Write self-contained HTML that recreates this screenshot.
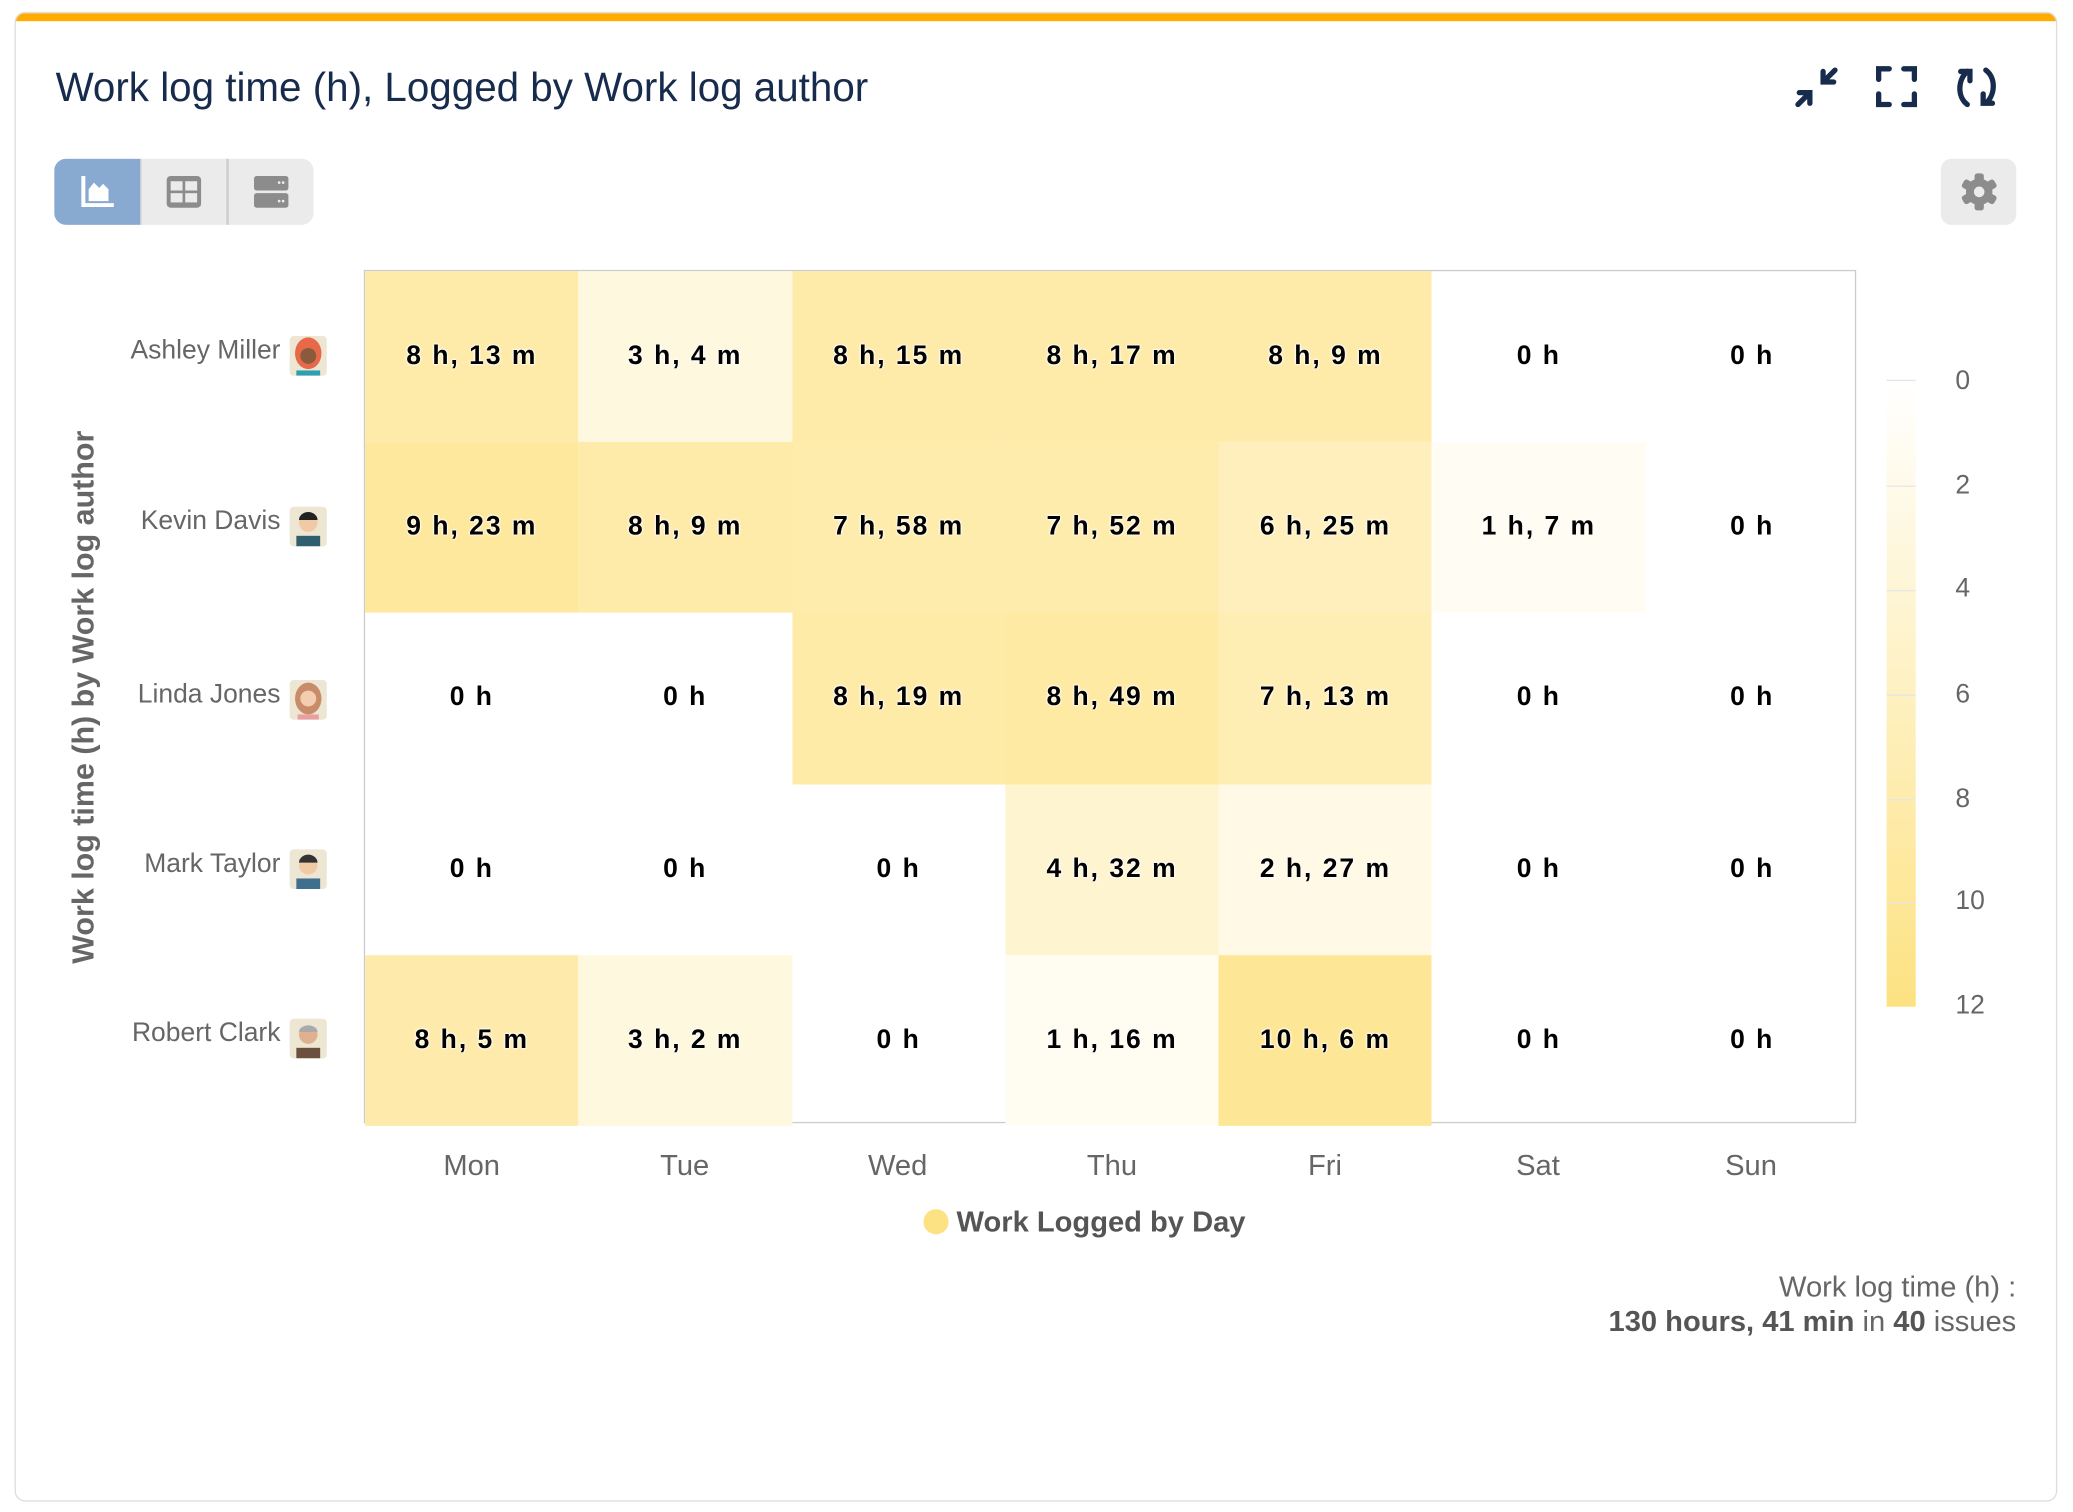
<!DOCTYPE html>
<html><head><meta charset="utf-8"><style>
html,body{margin:0;padding:0;background:#fff;width:2073px;height:1512px;overflow:hidden;font-family:"Liberation Sans",sans-serif}
#w{position:absolute;left:0;top:0;width:1565px;height:1142px;transform:scale(1.3230);transform-origin:0 0}
.a{position:absolute}
.card{left:11px;top:9px;width:1542px;height:1124px;border:1px solid #ddd;border-radius:8px;overflow:hidden;background:#fff}
.bar{left:0;top:0;width:100%;height:6px;background:#ffab00}
.title{left:42px;top:49px;font-size:30.5px;color:#172b4d;white-space:nowrap;transform:scaleY(1.02)}
.grp{left:41px;top:120px;width:196px;height:50px;background:#ebebeb;border-radius:9px;overflow:hidden}
.plot{left:275px;top:204px;width:1128px;height:645px;border:1px solid #ccc;box-sizing:border-box}
.c{position:absolute;width:161.3px;height:129.2px;display:flex;align-items:center;justify-content:center;font-weight:bold;font-size:20px;letter-spacing:1.5px;color:#000;text-shadow:0 0 2px #fff,0 0 2px #fff,0 0 2px #fff}
.n{position:absolute;right:1353px;font-size:20px;color:#666;white-space:nowrap}
.av{position:absolute;left:219px;width:28px;height:30px;border-radius:3px;background:#ede6d3;overflow:hidden}
.xl{position:absolute;top:868px;width:161px;text-align:center;font-size:22px;color:#666}
.cb{position:absolute;left:1478px;font-size:20px;color:#666}
.tk{position:absolute;left:1426px;width:22px;height:1px;background:#e6e6e6}
</style></head><body><div id="w">
<div class="a card"><div class="a bar"></div></div>
<div class="a title">Work log time (h), Logged by Work log author</div>
<svg class="a" style="left:1356px;top:50px" width="34" height="32" viewBox="0 0 34 32"><g stroke="#172b4d" stroke-width="4" stroke-linecap="round" fill="none"><path d="M3 29L12 20M4 20h8v8"/><path d="M31 3L22 12M22 4v8h8" /></g></svg>
<svg class="a" style="left:1417px;top:49px" width="33" height="33" viewBox="0 0 33 33"><g stroke="#172b4d" stroke-width="4" stroke-linecap="round" fill="none"><path d="M3 11V3h8M22 3h8v8M30 22v8h-8M11 30H3v-8"/></g></svg>
<svg class="a" style="left:1477px;top:48px" width="34" height="36" viewBox="0 0 34 36"><g stroke="#172b4d" stroke-width="4" stroke-linecap="round" fill="none"><path d="M10 31C2 25 3 12 10 6"/><path d="M5 6h7v7"/><path d="M24 5c8 6 7 19 0 25"/><path d="M29 30h-7v-7"/></g></svg>
<div class="a grp"><div class="a" style="left:0;top:0;width:65px;height:50px;background:#88aad0"></div><div class="a" style="left:130px;top:0;width:2px;height:50px;background:#d0d0d0"></div><div class="a" style="left:65px;top:0;width:1px;height:50px;background:#d0d0d0"></div>
<svg class="a" style="left:19px;top:12px" width="28" height="26"><path d="M3 1v22h23" stroke="#fff" stroke-width="3" fill="none"/><path d="M7 20v-9l4-5 4 4 3-3 4 4v9z" fill="#fff"/></svg>
<svg class="a" style="left:84px;top:12px" width="28" height="26"><rect x="1" y="1" width="26" height="24" rx="3" fill="#8c8c8c"/><rect x="4" y="5" width="9" height="7" fill="#ebebeb"/><rect x="15" y="5" width="9" height="7" fill="#ebebeb"/><rect x="4" y="14" width="9" height="7" fill="#ebebeb"/><rect x="15" y="14" width="9" height="7" fill="#ebebeb"/></svg>
<svg class="a" style="left:150px;top:12px" width="28" height="26"><rect x="1" y="1" width="26" height="11" rx="2" fill="#8c8c8c"/><rect x="1" y="14" width="26" height="11" rx="2" fill="#8c8c8c"/><circle cx="20" cy="6" r="1" fill="#eee"/><circle cx="23" cy="6" r="1" fill="#eee"/><circle cx="20" cy="20" r="1" fill="#eee"/><circle cx="23" cy="20" r="1" fill="#eee"/></svg></div>
<div class="a" style="left:1467px;top:120px;width:57px;height:50px;background:#ebebeb;border-radius:8px"></div>
<svg class="a" style="left:1481px;top:130px" width="30" height="30" viewBox="-15 -15 30 30"><g fill="#8c8c8c"><circle r="10"/><g><rect x="-3.5" y="-14" width="7" height="28" rx="2"/><rect x="-3.5" y="-14" width="7" height="28" rx="2" transform="rotate(60)"/><rect x="-3.5" y="-14" width="7" height="28" rx="2" transform="rotate(120)"/></g></g><circle r="4" fill="#ebebeb"/></svg>

<div class="a plot"></div>
<div class="a" style="left:276px;top:205px;width:1127px;height:644px">
<div class="c" style="left:0;top:0;background:color-mix(in srgb,#fde282 68.5%,#fff)">8 h, 13 m</div>
<div class="c" style="left:161.3px;top:0;background:color-mix(in srgb,#fde282 25.6%,#fff)">3 h, 4 m</div>
<div class="c" style="left:322.6px;top:0;background:color-mix(in srgb,#fde282 68.8%,#fff)">8 h, 15 m</div>
<div class="c" style="left:483.9px;top:0;background:color-mix(in srgb,#fde282 69%,#fff)">8 h, 17 m</div>
<div class="c" style="left:645.2px;top:0;background:color-mix(in srgb,#fde282 67.9%,#fff)">8 h, 9 m</div>
<div class="c" style="left:806.5px;top:0">0 h</div>
<div class="c" style="left:967.8px;top:0">0 h</div>
<div class="c" style="left:0;top:129.2px;background:color-mix(in srgb,#fde282 78.2%,#fff)">9 h, 23 m</div>
<div class="c" style="left:161.3px;top:129.2px;background:color-mix(in srgb,#fde282 67.9%,#fff)">8 h, 9 m</div>
<div class="c" style="left:322.6px;top:129.2px;background:color-mix(in srgb,#fde282 66.4%,#fff)">7 h, 58 m</div>
<div class="c" style="left:483.9px;top:129.2px;background:color-mix(in srgb,#fde282 65.6%,#fff)">7 h, 52 m</div>
<div class="c" style="left:645.2px;top:129.2px;background:color-mix(in srgb,#fde282 53.5%,#fff)">6 h, 25 m</div>
<div class="c" style="left:806.5px;top:129.2px;background:color-mix(in srgb,#fde282 9.3%,#fff)">1 h, 7 m</div>
<div class="c" style="left:967.8px;top:129.2px">0 h</div>
<div class="c" style="left:0;top:258.4px">0 h</div>
<div class="c" style="left:161.3px;top:258.4px">0 h</div>
<div class="c" style="left:322.6px;top:258.4px;background:color-mix(in srgb,#fde282 69.3%,#fff)">8 h, 19 m</div>
<div class="c" style="left:483.9px;top:258.4px;background:color-mix(in srgb,#fde282 73.5%,#fff)">8 h, 49 m</div>
<div class="c" style="left:645.2px;top:258.4px;background:color-mix(in srgb,#fde282 60.1%,#fff)">7 h, 13 m</div>
<div class="c" style="left:806.5px;top:258.4px">0 h</div>
<div class="c" style="left:967.8px;top:258.4px">0 h</div>
<div class="c" style="left:0;top:387.6px">0 h</div>
<div class="c" style="left:161.3px;top:387.6px">0 h</div>
<div class="c" style="left:322.6px;top:387.6px">0 h</div>
<div class="c" style="left:483.9px;top:387.6px;background:color-mix(in srgb,#fde282 37.8%,#fff)">4 h, 32 m</div>
<div class="c" style="left:645.2px;top:387.6px;background:color-mix(in srgb,#fde282 20.4%,#fff)">2 h, 27 m</div>
<div class="c" style="left:806.5px;top:387.6px">0 h</div>
<div class="c" style="left:967.8px;top:387.6px">0 h</div>
<div class="c" style="left:0;top:516.8px;background:color-mix(in srgb,#fde282 67.4%,#fff)">8 h, 5 m</div>
<div class="c" style="left:161.3px;top:516.8px;background:color-mix(in srgb,#fde282 25.3%,#fff)">3 h, 2 m</div>
<div class="c" style="left:322.6px;top:516.8px">0 h</div>
<div class="c" style="left:483.9px;top:516.8px;background:color-mix(in srgb,#fde282 10.6%,#fff)">1 h, 16 m</div>
<div class="c" style="left:645.2px;top:516.8px;background:color-mix(in srgb,#fde282 84.2%,#fff)">10 h, 6 m</div>
<div class="c" style="left:806.5px;top:516.8px">0 h</div>
<div class="c" style="left:967.8px;top:516.8px">0 h</div>
</div>

<div class="n" style="top:254px">Ashley Miller</div><div class="av" style="top:254px"><svg width="28" height="30"><ellipse cx="14" cy="13" rx="10" ry="12" fill="#e8694a"/><circle cx="14" cy="15" r="6" fill="#8a5a3c"/><rect x="5" y="26" width="18" height="4" fill="#2aa0b0"/></svg></div>
<div class="n" style="top:383px">Kevin Davis</div><div class="av" style="top:383px"><svg width="28" height="30"><circle cx="14" cy="12" r="7" fill="#f1c9a5"/><path d="M7 10a7 6 0 0 1 14 0z" fill="#222"/><rect x="5" y="22" width="18" height="8" fill="#2f5f6f"/></svg></div>
<div class="n" style="top:514px">Linda Jones</div><div class="av" style="top:514px"><svg width="28" height="30"><ellipse cx="14" cy="14" rx="10" ry="12" fill="#c98c6b"/><circle cx="14" cy="14" r="6" fill="#f3cdb0"/><rect x="6" y="26" width="16" height="4" fill="#e8a0a0"/></svg></div>
<div class="n" style="top:642px">Mark Taylor</div><div class="av" style="top:642px"><svg width="28" height="30"><circle cx="14" cy="12" r="7" fill="#f1c9a5"/><path d="M7 10a7 6 0 0 1 14 0z" fill="#333"/><rect x="5" y="22" width="18" height="8" fill="#3f6f8f"/></svg></div>
<div class="n" style="top:770px">Robert Clark</div><div class="av" style="top:770px"><svg width="28" height="30"><circle cx="14" cy="12" r="7" fill="#e0b08f"/><path d="M7 10a7 5 0 0 1 14 0z" fill="#aaa"/><rect x="5" y="22" width="18" height="8" fill="#6b5040"/></svg></div>

<div class="a" style="left:63px;top:527px;transform:translate(-50%,-50%) rotate(-90deg);font-size:23px;color:#666;font-weight:bold;white-space:nowrap">Work log time (h) by Work log author</div>

<div class="xl" style="left:276px">Mon</div><div class="xl" style="left:437px">Tue</div><div class="xl" style="left:598px">Wed</div><div class="xl" style="left:760px">Thu</div><div class="xl" style="left:921px">Fri</div><div class="xl" style="left:1082px">Sat</div><div class="xl" style="left:1243px">Sun</div>

<div class="a" style="left:698px;top:914px;width:19px;height:19px;border-radius:50%;background:#fde282"></div>
<div class="a" style="left:723px;top:911px;font-size:22px;font-weight:bold;color:#555">Work Logged by Day</div>

<div class="a" style="left:1426px;top:288px;width:22px;height:473px;background:linear-gradient(#fff,#fde282)"></div>
<div class="tk" style="top:287px"></div><div class="tk" style="top:367px"></div><div class="tk" style="top:446px"></div><div class="tk" style="top:525px"></div><div class="tk" style="top:604px"></div><div class="tk" style="top:682px"></div>
<div class="cb" style="top:277px">0</div><div class="cb" style="top:356px">2</div><div class="cb" style="top:434px">4</div><div class="cb" style="top:514px">6</div><div class="cb" style="top:593px">8</div><div class="cb" style="top:670px">10</div><div class="cb" style="top:749px">12</div>

<div class="a" style="right:41px;top:960px;text-align:right;font-size:22px;color:#666;line-height:26px;white-space:nowrap">Work log time (h) :<br><b style="color:#555">130 hours, 41 min</b> in <b style="color:#555">40</b> issues</div>
</div></body></html>
